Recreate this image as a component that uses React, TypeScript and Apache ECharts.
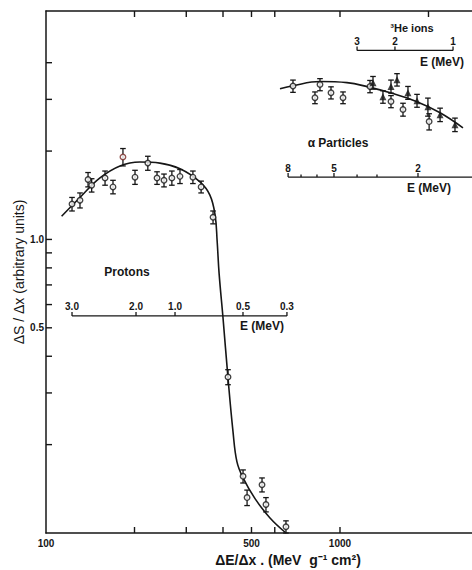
import React, { useEffect, useRef } from "react";
import * as echarts from "echarts";

// ---- main axes ----
const xMin = 100;
const xMax = 2812;
const yMin = 0.1;
const yMax = 6;
const xTickValues = [200, 300, 400, 500, 600, 1000];
const xTopTickValues = [200, 300, 400, 500, 600, 1000, 2000];
const xLabelValues = [100, 500, 1000];
const yTickValues = [0.2, 0.3, 0.4, 0.5, 0.6, 0.7, 0.8, 0.9, 1, 2, 3, 4];
const yLabelValues = [0.5, 1];

// ---- protons (open circles) ----
const protonX = [122.6, 130.5, 139, 143, 158.8, 169, 182.7, 200.8, 222, 238.6, 252, 268, 285.6, 316, 337, 370, 416, 468, 483, 543, 560, 655];
const protonY = [1.32, 1.36, 1.6, 1.53, 1.62, 1.51, 1.91, 1.63, 1.82, 1.62, 1.59, 1.62, 1.64, 1.63, 1.51, 1.19, 0.34, 0.156, 0.132, 0.146, 0.125, 0.105];
const protonErr = [0.07, 0.08, 0.09, 0.08, 0.09, 0.08, 0.13, 0.09, 0.1, 0.08, 0.08, 0.09, 0.09, 0.08, 0.07, 0.06, 0.02, 0.008, 0.008, 0.008, 0.007, 0.005];
const protonFitX = [113, 130.5, 152.6, 178.5, 208.8, 244, 285.6, 334, 361, 376, 382, 388, 400, 416, 432.5, 446, 468, 514, 578, 655];
const protonFitY = [1.2, 1.39, 1.62, 1.78, 1.835, 1.82, 1.74, 1.57, 1.415, 1.21, 0.99, 0.765, 0.541, 0.337, 0.222, 0.175, 0.154, 0.131, 0.1125, 0.1];

// ---- alpha particles (open circles) ----
const alphaX = [692, 855, 822, 932, 1024, 1265, 1491, 1638, 2010];
const alphaY = [3.33, 3.37, 3.04, 3.16, 3.04, 3.32, 2.95, 2.77, 2.52];
const alphaErr = [0.16, 0.16, 0.14, 0.15, 0.14, 0.16, 0.14, 0.14, 0.16];
// ---- 3He ions (filled) ----
const heX = [1295, 1400, 1491, 1563, 1703, 1828, 1991, 2190, 2461];
const heY = [3.42, 3.06, 3.32, 3.5, 3.16, 2.97, 2.83, 2.66, 2.46];
const heErr = [0.17, 0.15, 0.17, 0.17, 0.16, 0.15, 0.2, 0.14, 0.13];
const alphaFitX = [625, 692, 855, 1056, 1236, 1514, 1828, 2190, 2620];
const alphaFitY = [3.26, 3.34, 3.45, 3.42, 3.315, 3.14, 2.945, 2.7, 2.4];

// ---- energy scales (positions given as dE/dx on the main x axis) ----
const protonScaleLabels = ["3.0", "2.0", "1.0", "0.5", "0.3"];
const protonScalePos = [122.6, 202.4, 274.7, 467.8, 660];
const protonScaleY = 0.549;
const alphaScaleLabels = ["8", "", "", "5", "", "", "2"];
const alphaScalePos = [666, 737, 835, 954, 1143, 1336, 1842];
const alphaScaleEnd = 2812;
const alphaScaleY = 1.631;
const heScaleLabels = ["3", "2", "1"];
const heScalePos = [1143, 1538, 2424];
const heScaleY = 4.405;

const INK = "#161616";
const FONT = "Liberation Sans";

function errorBars(xs: number[], ys: number[], es: number[], color = INK) {
  return {
    type: "custom",
    silent: true,
    z: 3,
    data: xs.map((x, i) => [x, ys[i] - es[i], ys[i] + es[i]]),
    renderItem: (_p: any, api: any) => {
      const lo = api.coord([api.value(0), api.value(1)]);
      const hi = api.coord([api.value(0), api.value(2)]);
      const w = 2.8;
      const st = { stroke: color, lineWidth: 1.3 };
      return {
        type: "group",
        children: [
          { type: "line", shape: { x1: lo[0], y1: lo[1], x2: hi[0], y2: hi[1] }, style: st },
          { type: "line", shape: { x1: lo[0] - w, y1: lo[1], x2: lo[0] + w, y2: lo[1] }, style: st },
          { type: "line", shape: { x1: hi[0] - w, y1: hi[1], x2: hi[0] + w, y2: hi[1] }, style: st },
        ],
      };
    },
  };
}

// inward ticks of the frame, placed through the axes' own scales
function frameTicks(points: number[][], dx: number, dy: number) {
  return {
    type: "custom",
    silent: true,
    clip: false,
    z: 5,
    data: points,
    renderItem: (_p: any, api: any) => {
      const c = api.coord([api.value(0), api.value(1)]);
      return {
        type: "line",
        shape: { x1: c[0], y1: c[1], x2: c[0] + dx, y2: c[1] + dy },
        style: { stroke: INK, lineWidth: 1.4 },
      };
    },
  };
}

function energyScale(pos: number[], labels: string[], yVal: number, endX: number) {
  return [
    {
      type: "line",
      silent: true,
      symbol: "none",
      data: [[pos[0], yVal], [endX, yVal]],
      lineStyle: { color: INK, width: 1.3 },
      z: 2,
    },
    {
      type: "custom",
      silent: true,
      clip: false,
      z: 2,
      data: pos.map((p, i) => [p, yVal, i]),
      renderItem: (_p: any, api: any) => {
        const c = api.coord([api.value(0), api.value(1)]);
        const lab = labels[api.value(2)];
        const len = lab ? 4 : 2.5;
        const children: any[] = [
          { type: "line", shape: { x1: c[0], y1: c[1], x2: c[0], y2: c[1] - len }, style: { stroke: INK, lineWidth: 1.3 } },
        ];
        if (lab) {
          children.push({
            type: "text",
            x: c[0],
            y: c[1] - len,
            style: { text: lab, align: "center", verticalAlign: "bottom", fontSize: 10, fontWeight: "bold", fontFamily: FONT, fill: INK },
          });
        }
        return { type: "group", children };
      },
    },
  ];
}

function txt(text: string, x: number, y: number, size = 12, weight: any = "bold", rotation = 0) {
  return {
    type: "text",
    x,
    y,
    rotation,
    style: { text, align: "center", verticalAlign: "middle", fontSize: size, fontWeight: weight, fontFamily: FONT, fill: INK },
  };
}

export default function App() {
  const ref = useRef<HTMLDivElement>(null);
  useEffect(() => {
    if (!ref.current) return;
    const chart = echarts.init(ref.current, undefined, { renderer: "svg" });
    const axisCommon = {
      type: "log",
      min: xMin,
      max: xMax,
      splitLine: { show: false },
      axisTick: { show: false },
      axisLine: { show: true, lineStyle: { color: INK, width: 1.5 } },
    };
    const protonData = protonX.map((x, i) =>
      i === 6
        ? { value: [x, protonY[i]], itemStyle: { borderColor: "#7a2b26" } }
        : { value: [x, protonY[i]] }
    );
    chart.setOption({
      animation: false,
      backgroundColor: "#ffffff",
      textStyle: { fontFamily: FONT },
      grid: { left: 46, right: 0, top: 11, bottom: 37, containLabel: false, outerBoundsMode: "none" },
      xAxis: [
        {
          ...axisCommon,
          position: "bottom",
          axisLabel: {
            show: true,
            customValues: xLabelValues,
            fontSize: 10,
            fontWeight: "bold",
            color: INK,
            margin: 5,
            fontFamily: FONT,
            formatter: (v: number) => String(Math.round(v)),
          },
        },
        {
          ...axisCommon,
          position: "top",
          axisLabel: { show: false },
        },
      ],
      yAxis: {
        type: "log",
        min: yMin,
        max: yMax,
        splitLine: { show: false },
        axisLine: { show: true, lineStyle: { color: INK, width: 1.5 } },
        axisTick: { show: false },
        axisLabel: {
          show: true,
          customValues: yLabelValues,
          fontSize: 10,
          fontWeight: "bold",
          color: INK,
          margin: 2,
          fontFamily: FONT,
          formatter: (v: number) => v.toFixed(1),
        },
      },
      graphic: [
        txt("ΔS / Δx (arbitrary units)", 19, 272, 14, "normal", Math.PI / 2),
        txt("Protons", 127, 272, 12),
        txt("E (MeV)", 262, 326, 12),
        txt("α Particles", 338, 143, 12),
        txt("E (MeV)", 429, 188, 12),
        txt("³He ions", 412, 28, 11),
        txt("E (MeV)", 442, 62, 12),
        txt("ΔE/Δx . (MeV  g⁻¹ cm²)", 288, 560, 14),
      ],
      series: [
        {
          type: "line",
          silent: true,
          smooth: 0.4,
          symbol: "none",
          data: protonFitX.map((x, i) => [x, protonFitY[i]]),
          lineStyle: { color: INK, width: 1.6 },
          z: 1,
        },
        {
          type: "line",
          silent: true,
          smooth: 0.4,
          symbol: "none",
          data: alphaFitX.map((x, i) => [x, alphaFitY[i]]),
          lineStyle: { color: INK, width: 1.6 },
          z: 1,
        },
        frameTicks(xTickValues.map((v) => [v, yMin]), 0, -6),
        frameTicks(xTopTickValues.map((v) => [v, yMax]), 0, 6),
        frameTicks(yTickValues.map((v) => [xMin, v]), 6, 0),
        ...energyScale(protonScalePos, protonScaleLabels, protonScaleY, protonScalePos[protonScalePos.length - 1]),
        ...energyScale(alphaScalePos, alphaScaleLabels, alphaScaleY, alphaScaleEnd),
        ...energyScale(heScalePos, heScaleLabels, heScaleY, heScalePos[heScalePos.length - 1]),
        errorBars(protonX, protonY, protonErr),
        errorBars(alphaX, alphaY, alphaErr),
        errorBars(heX, heY, heErr),
        {
          type: "scatter",
          silent: true,
          symbol: "circle",
          symbolSize: 5.5,
          z: 4,
          data: protonData,
          itemStyle: { color: "#ffffff", borderColor: INK, borderWidth: 1.4 },
        },
        {
          type: "scatter",
          silent: true,
          symbol: "circle",
          symbolSize: 5.5,
          z: 4,
          data: alphaX.map((x, i) => [x, alphaY[i]]),
          itemStyle: { color: "#ffffff", borderColor: INK, borderWidth: 1.4 },
        },
        {
          type: "scatter",
          silent: true,
          symbol: "triangle",
          symbolSize: 7,
          z: 4,
          data: heX.map((x, i) => [x, heY[i]]),
          itemStyle: { color: INK },
        },
      ],
    });
    return () => chart.dispose();
  }, []);
  return (
    <div
      ref={ref}
      style={{ position: "fixed", left: 0, top: 0, width: 472, height: 570, background: "#fff" }}
    />
  );
}
